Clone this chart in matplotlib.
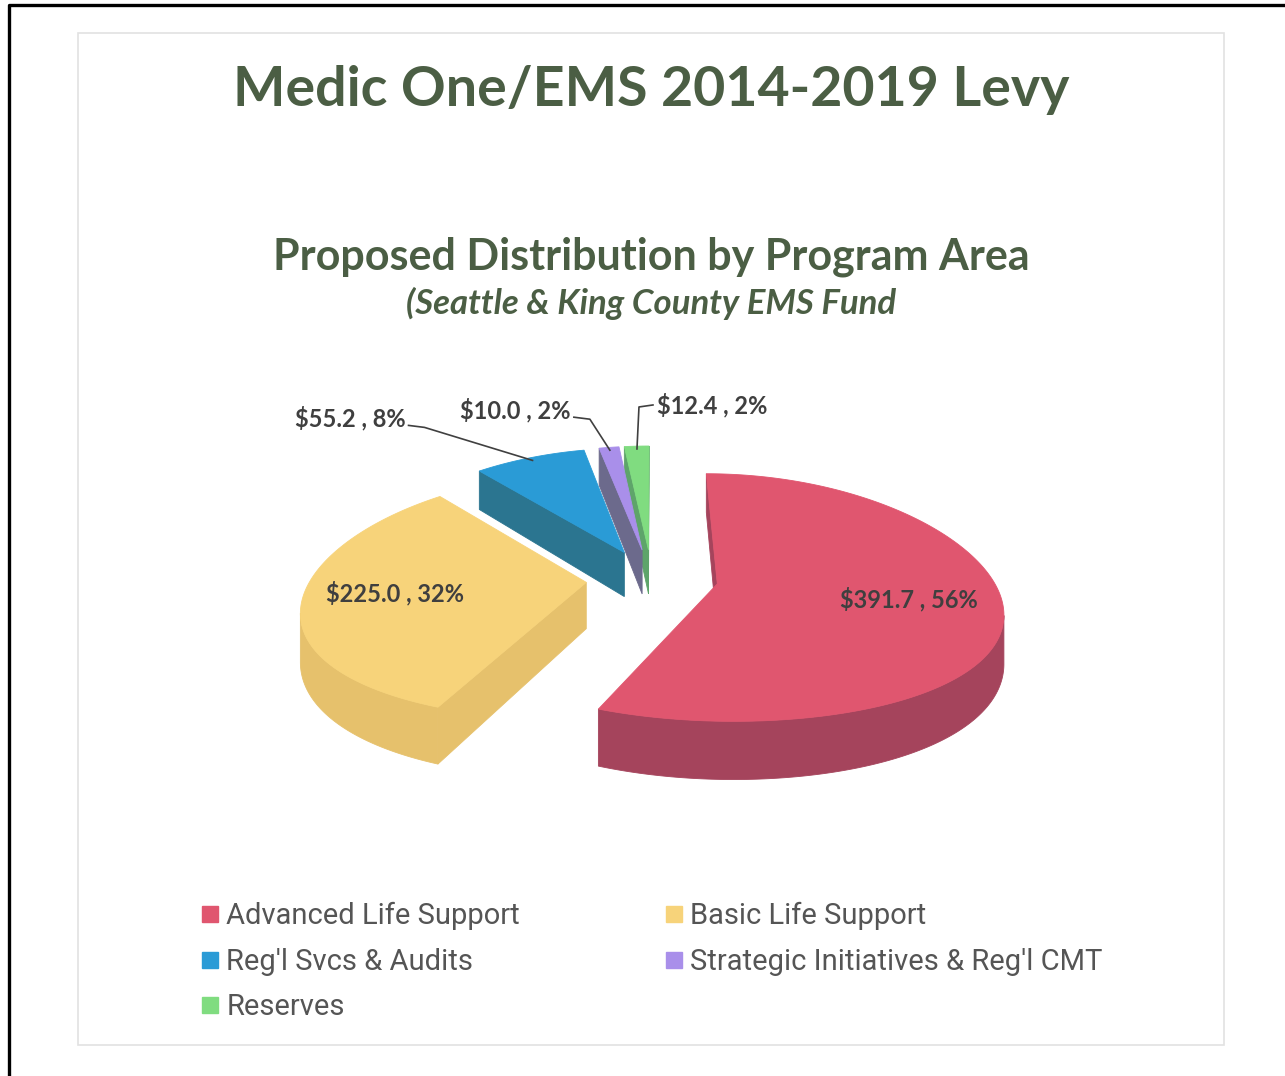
import numpy as np
import matplotlib.pyplot as plt
from matplotlib.patches import Polygon, Rectangle
from matplotlib.lines import Line2D

# Data
programs = ["Advanced Life Support", "Basic Life Support", "Reg'l Svcs & Audits",
            "Strategic Initiatives & Reg'l CMT", "Reserves"]
amounts = [391.7, 225.0, 55.2, 10.0, 12.4]
pct_labels = ["56%", "32%", "8%", "2%", "2%"]

top_colors = ["#E0566F", "#F7D37A", "#2A9BD6", "#A98FEA", "#80DC80"]
side_colors = ["#A5445C", "#E6C16C", "#2B7590", "#6C6A8C", "#5EA46A"]

title_color = "#4B5E44"
label_color = "#3F3F3F"

# 3D pie layout (pixel space)
CX, CY = 652, 578
R = 275
A = 121
KX, KY = 0.2, 0.11
H = 46
EXPLODE = 0.24


def project(X, Y, Z=0.0):
    px = 1.0 / (1.0 + KX * Y)
    py = 1.0 / (1.0 + KY * Y)
    return CX + R * X * px, CY - A * Y * py - Z * px


def signed_area(pts):
    pts = np.asarray(pts)
    x, y = pts[:, 0], pts[:, 1]
    return 0.5 * np.sum(x * np.roll(y, -1) - np.roll(x, -1) * y)


def side_face(P, Q):
    return [project(P[0], P[1], 0), project(Q[0], Q[1], 0),
            project(Q[0], Q[1], -H), project(P[0], P[1], -H)]


fig = plt.figure(figsize=(12.85, 10.76), dpi=100)
ax = fig.add_axes([0, 0, 1, 1])
ax.set_xlim(0, 1285)
ax.set_ylim(1076, 0)
ax.axis('off')

# page border and chart frame
ax.plot([9, 9, 1285], [1076, 5, 5], color='black', lw=2.4, solid_capstyle='butt')
ax.add_patch(Rectangle((78, 33), 1146, 1012, fill=False, ec='#E2E2E2', lw=1.2))

total = sum(amounts)
slices = []
start = 90.0
for i, v in enumerate(amounts):
    span = 360.0 * v / total
    t1, t2 = start, start - span
    mid = np.radians((t1 + t2) / 2)
    ox, oy = EXPLODE * np.cos(mid), EXPLODE * np.sin(mid)
    n = max(4, int(span * 1.5))
    th = np.radians(np.linspace(t1, t2, n))
    arc = [(ox + np.cos(t), oy + np.sin(t)) for t in th]
    slices.append(dict(i=i, ox=ox, oy=oy, mid=mid, arc=arc))
    start = t2

# back slices first
for s in sorted(slices, key=lambda d: -d['oy']):
    i = s['i']
    V = (s['ox'], s['oy'])
    arc = s['arc']
    faces = []
    # radial faces
    for P, Q in [(V, arc[0]), (arc[-1], V)]:
        f = side_face(P, Q)
        if signed_area(f) < 0:
            faces.append(f)
    # outer curved face, merged into visible runs
    run = []
    for j in range(len(arc) - 1):
        f = side_face(arc[j], arc[j + 1])
        if signed_area(f) < 0:
            if not run:
                run = [arc[j]]
            run.append(arc[j + 1])
        elif run:
            faces.append([project(p[0], p[1], 0) for p in run] +
                         [project(p[0], p[1], -H) for p in run[::-1]])
            run = []
    if run:
        faces.append([project(p[0], p[1], 0) for p in run] +
                     [project(p[0], p[1], -H) for p in run[::-1]])
    for f in faces:
        ax.add_patch(Polygon(f, closed=True, fc=side_colors[i], ec=side_colors[i], lw=0.6))
    top = [project(*V)] + [project(p[0], p[1]) for p in arc]
    ax.add_patch(Polygon(top, closed=True, fc=top_colors[i], ec=top_colors[i], lw=0.6))

# data labels
label_font = dict(family=['Lato', 'DejaVu Sans'], fontweight='bold', color=label_color)
leader_off = {2: (-108, -33, 'right'), 3: (-20, -31, 'right'), 4: (8, -42, 'left')}
for s in slices:
    i = s['i']
    text = "$%.1f , %s" % (amounts[i], pct_labels[i])
    if i in (0, 1):
        X = s['ox'] + 0.68 * np.cos(s['mid'])
        Y = s['oy'] + 0.68 * np.sin(s['mid'])
        x, y = project(X, Y)
        ax.text(x, y - 2, text, ha='center', va='center', fontsize=17, **label_font)
    else:
        X = s['ox'] + 0.97 * np.cos(s['mid'])
        Y = s['oy'] + 0.97 * np.sin(s['mid'])
        x, y = project(X, Y)
        dx, dy, side = leader_off[i]
        ex, ey = x + dx, y + dy
        if side == 'right':
            tx = ex - 16
            ax.plot([x, ex, tx], [y, ey, ey - 2], color='#404040', lw=1.2)
            ax.text(tx - 3, ey - 9, text, ha='right', va='center', fontsize=17, **label_font)
        else:
            tx = ex + 8
            ax.plot([x, ex - 6, tx], [y, ey, ey - 2], color='#404040', lw=1.2)
            ax.text(tx + 4, ey - 2, text, ha='left', va='center', fontsize=17, **label_font)

# titles
ax.text(651, 90, "Medic One/EMS 2014-2019 Levy", ha='center', va='center',
        fontsize=40, fontweight='bold', color=title_color, family=['Lato', 'DejaVu Sans'])
ax.text(651, 257, "Proposed Distribution by Program Area", ha='center', va='center',
        fontsize=31, fontweight='bold', color=title_color, family=['Lato', 'DejaVu Sans'])
ax.text(651, 303, "(Seattle & King County EMS Fund", ha='center', va='center',
        fontsize=25, fontweight='bold', style='italic', color=title_color,
        family=['Lato', 'DejaVu Sans'])

# legend (column-wise fill gives row order ALS, BLS / Reg, Strat / Reserves)
order = [0, 2, 4, 1, 3]
handles = [Line2D([], [], marker='s', ls='none', markersize=11,
                  mfc=top_colors[k], mec=top_colors[k]) for k in order]
leg = ax.legend(handles, [programs[k] for k in order], ncol=2,
                loc='upper left', bbox_to_anchor=(176 / 1285, 1 - 876 / 1076),
                frameon=False, handlelength=0.55, handletextpad=0.28,
                columnspacing=5.0, labelspacing=0.6,
                prop=dict(family=['Roboto', 'DejaVu Sans'], size=21))
for t in leg.get_texts():
    t.set_color('#555555')

fig.savefig('out.png', dpi=100)
